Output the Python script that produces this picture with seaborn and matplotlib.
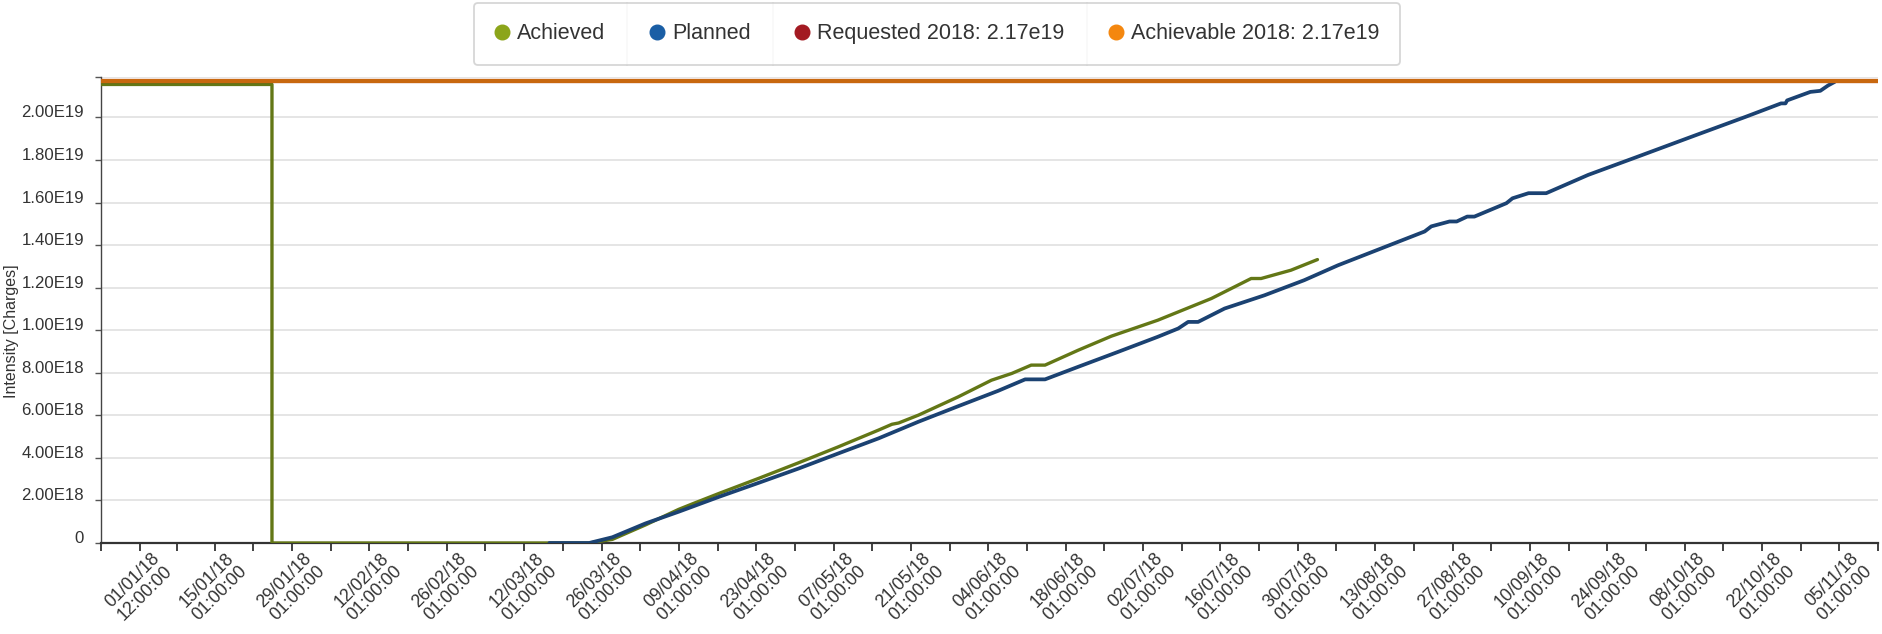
import numpy as np
import pandas as pd
import matplotlib
matplotlib.use("Agg")
import matplotlib.pyplot as plt
import matplotlib.transforms as mtransforms
from matplotlib.lines import Line2D
import seaborn as sns

# ---------------- data ----------------
base_date = "2018-01-01"
# days since base_date, values in units of 1e18 charges
achieved_days = [-6.54, 24.4, 24.4, 81.8, 86.0, 92.0, 98.0, 100.4, 105.3, 112.5, 119.7,
                 126.9, 134.2, 136.6, 137.8, 141.4, 148.6, 154.6, 158.3, 161.8, 164.3,
                 170.3, 176.3, 184.7, 194.4, 201.6, 203.4, 208.8, 213.6]
achieved_vals = [21.55, 21.55, 0.0, 0.0, 0.17, 0.85, 1.58, 1.83, 2.33, 3.04, 3.77,
                 4.52, 5.31, 5.58, 5.64, 6.01, 6.87, 7.65, 7.97, 8.36, 8.36,
                 9.06, 9.72, 10.47, 11.49, 12.43, 12.43, 12.82, 13.32]
planned_days = [74.6, 81.8, 86.0, 92.0, 98.0, 105.3, 112.5, 119.7, 126.9, 134.2, 141.4,
                148.6, 155.8, 160.7, 164.3, 170.3, 177.5, 184.7, 188.4, 190.2, 192.0,
                196.8, 204.0, 211.2, 217.3, 233.0, 234.2, 237.5, 238.8, 240.7, 242.0,
                247.8, 248.9, 251.8, 255.0, 262.6, 271.6, 282.1, 291.1, 297.5, 298.3,
                298.6, 302.8, 304.6, 306.0, 307.2]
planned_vals = [0.0, 0.0, 0.27, 0.92, 1.47, 2.17, 2.83, 3.5, 4.21, 4.92, 5.7,
                6.43, 7.15, 7.69, 7.69, 8.28, 8.98, 9.69, 10.08, 10.39, 10.39,
                11.02, 11.64, 12.35, 13.05, 14.64, 14.88, 15.11, 15.11, 15.34, 15.34,
                15.97, 16.2, 16.44, 16.44, 17.3, 18.16, 19.17, 20.03, 20.66, 20.66,
                20.8, 21.2, 21.25, 21.5, 21.67]
requested_2018 = 2.17e19
achievable_2018 = 2.17e19
series_names = ["Achieved", "Planned", "Requested 2018: 2.17e19", "Achievable 2018: 2.17e19"]
x_tick_labels = ["01/01/18\n12:00:00", "15/01/18\n01:00:00", "29/01/18\n01:00:00",
                 "12/02/18\n01:00:00", "26/02/18\n01:00:00", "12/03/18\n01:00:00",
                 "26/03/18\n01:00:00", "09/04/18\n01:00:00", "23/04/18\n01:00:00",
                 "07/05/18\n01:00:00", "21/05/18\n01:00:00", "04/06/18\n01:00:00",
                 "18/06/18\n01:00:00", "02/07/18\n01:00:00", "16/07/18\n01:00:00",
                 "30/07/18\n01:00:00", "13/08/18\n01:00:00", "27/08/18\n01:00:00",
                 "10/09/18\n01:00:00", "24/09/18\n01:00:00", "08/10/18\n01:00:00",
                 "22/10/18\n01:00:00", "05/11/18\n01:00:00"]
y_tick_labels = ["0", "2.00E18", "4.00E18", "6.00E18", "8.00E18", "1.00E19",
                 "1.20E19", "1.40E19", "1.60E19", "1.80E19", "2.00E19"]
x_range_days = [-6.54, 314.4]
y_max = 2.19e19
y_label = "Intensity [Charges]"

# ---------------- styling ----------------
sns.set_theme(style="white")
plt.rcParams["font.family"] = ["Liberation Sans", "DejaVu Sans"]
TXT = "#333333"
C_ACH_LINE = "#637716"
C_PLAN_LINE = "#1b4272"
C_REQ = "#a31a22"
C_ACHV_LINE = "#c8680f"
C_ACH_MK = "#8ca51a"
C_PLAN_MK = "#1a5ea5"
C_ACHV_MK = "#f4870f"

W, H, DPI = 1883, 634, 100
fig = plt.figure(figsize=(W / DPI, H / DPI), dpi=DPI)
ax = fig.add_axes([101 / W, 1 - 543 / H, (1878 - 101) / W, (543 - 77) / H])

base = pd.Timestamp(base_date)
df_ach = pd.DataFrame({"time": base + pd.to_timedelta(achieved_days, unit="D"),
                       "value": np.array(achieved_vals) * 1e18})
df_plan = pd.DataFrame({"time": base + pd.to_timedelta(planned_days, unit="D"),
                        "value": np.array(planned_vals) * 1e18})

sns.lineplot(data=df_ach, x="time", y="value", ax=ax, sort=False, estimator=None,
             color=C_ACH_LINE, linewidth=2.4, zorder=3)
sns.lineplot(data=df_plan, x="time", y="value", ax=ax, sort=False, estimator=None,
             color=C_PLAN_LINE, linewidth=2.7, zorder=4)
ax.axhline(requested_2018, color=C_REQ, linewidth=3.0, zorder=5)
ax.axhline(achievable_2018, color=C_ACHV_LINE, linewidth=3.0, zorder=6)

# axes limits
x0 = base + pd.to_timedelta(x_range_days[0], unit="D")
x1 = base + pd.to_timedelta(x_range_days[1], unit="D")
ax.set_xlim(x0, x1)
ax.set_ylim(0, y_max)

# y ticks
yt = [float(s) for s in y_tick_labels] + [y_max]
ax.set_yticks(yt)
ax.set_yticklabels(y_tick_labels + [""])
for lab in ax.get_yticklabels():
    lab.set_verticalalignment("baseline")
ax.tick_params(axis="y", which="major", length=4.3, width=1.0, color="#555555",
               pad=8.0, labelsize=12.1, labelcolor=TXT, direction="out", left=True)
ax.yaxis.grid(True, color="#e3e3e3", linewidth=1.3, zorder=0)
ax.xaxis.grid(False)

# x ticks
major_t = pd.to_datetime([s.replace("\n", " ") for s in x_tick_labels], format="%d/%m/%y %H:%M:%S")
major_num = matplotlib.dates.date2num(major_t)
mids = list((major_num[:-1] + major_num[1:]) / 2)
minor_num = [major_num[0] - 7] + mids + [major_num[-1] + 7]
ax.set_xticks(major_num)
ax.set_xticklabels(x_tick_labels)
ax.set_xticks(minor_num, minor=True)
ax.tick_params(axis="x", which="both", length=5.6, width=1.3, color="#333333",
               direction="out", bottom=True, labelsize=12.8, labelcolor=TXT, pad=2)
offset = mtransforms.ScaledTranslation(0.11, 0.04, fig.dpi_scale_trans)
for lab in ax.get_xticklabels():
    lab.set_rotation(45)
    lab.set_ha("right")
    lab.set_va("top")
    lab.set_rotation_mode("anchor")
    lab.set_multialignment("right")
    lab.set_linespacing(1.1)
    lab.set_transform(lab.get_transform() + offset)

ax.set_xlabel("")
ax.set_ylabel(y_label, fontsize=11.5, color=TXT)
ax.yaxis.set_label_coords(-0.046, 0.455)

for s in ["top", "right"]:
    ax.spines[s].set_visible(False)
ax.spines["left"].set_color("#444444")
ax.spines["left"].set_linewidth(1.0)
ax.spines["bottom"].set_color("#333333")
ax.spines["bottom"].set_linewidth(1.6)

# legend
handles = [Line2D([], [], linestyle="none", marker="o", markersize=10.5, color=c)
           for c in [C_ACH_MK, C_PLAN_MK, C_REQ, C_ACHV_MK]]
LEG_FS = 15.5
COLSP = 2.05
leg = fig.legend(handles, series_names, loc="upper center", ncol=4,
                 bbox_to_anchor=(937 / W, 1 - 3 / H), bbox_transform=fig.transFigure,
                 fontsize=LEG_FS, frameon=True, fancybox=True, borderpad=0.95,
                 handlelength=0.7, handletextpad=0.35, columnspacing=COLSP,
                 labelcolor=TXT, borderaxespad=0)
leg.get_frame().set_edgecolor("#cccccc")
leg.get_frame().set_linewidth(1.3)

fig.canvas.draw()
r = fig.canvas.get_renderer()
fb = leg.get_frame().get_window_extent(r)
sep = COLSP * LEG_FS * DPI / 72.0
for t in leg.get_texts()[:-1]:
    bb = t.get_window_extent(r)
    xs = (bb.x1 + sep / 2) / W
    fig.add_artist(Line2D([xs, xs], [fb.y0 / H, fb.y1 / H], transform=fig.transFigure,
                          color="#dddddd", linewidth=1.2))

fig.savefig("out.png", dpi=DPI)
